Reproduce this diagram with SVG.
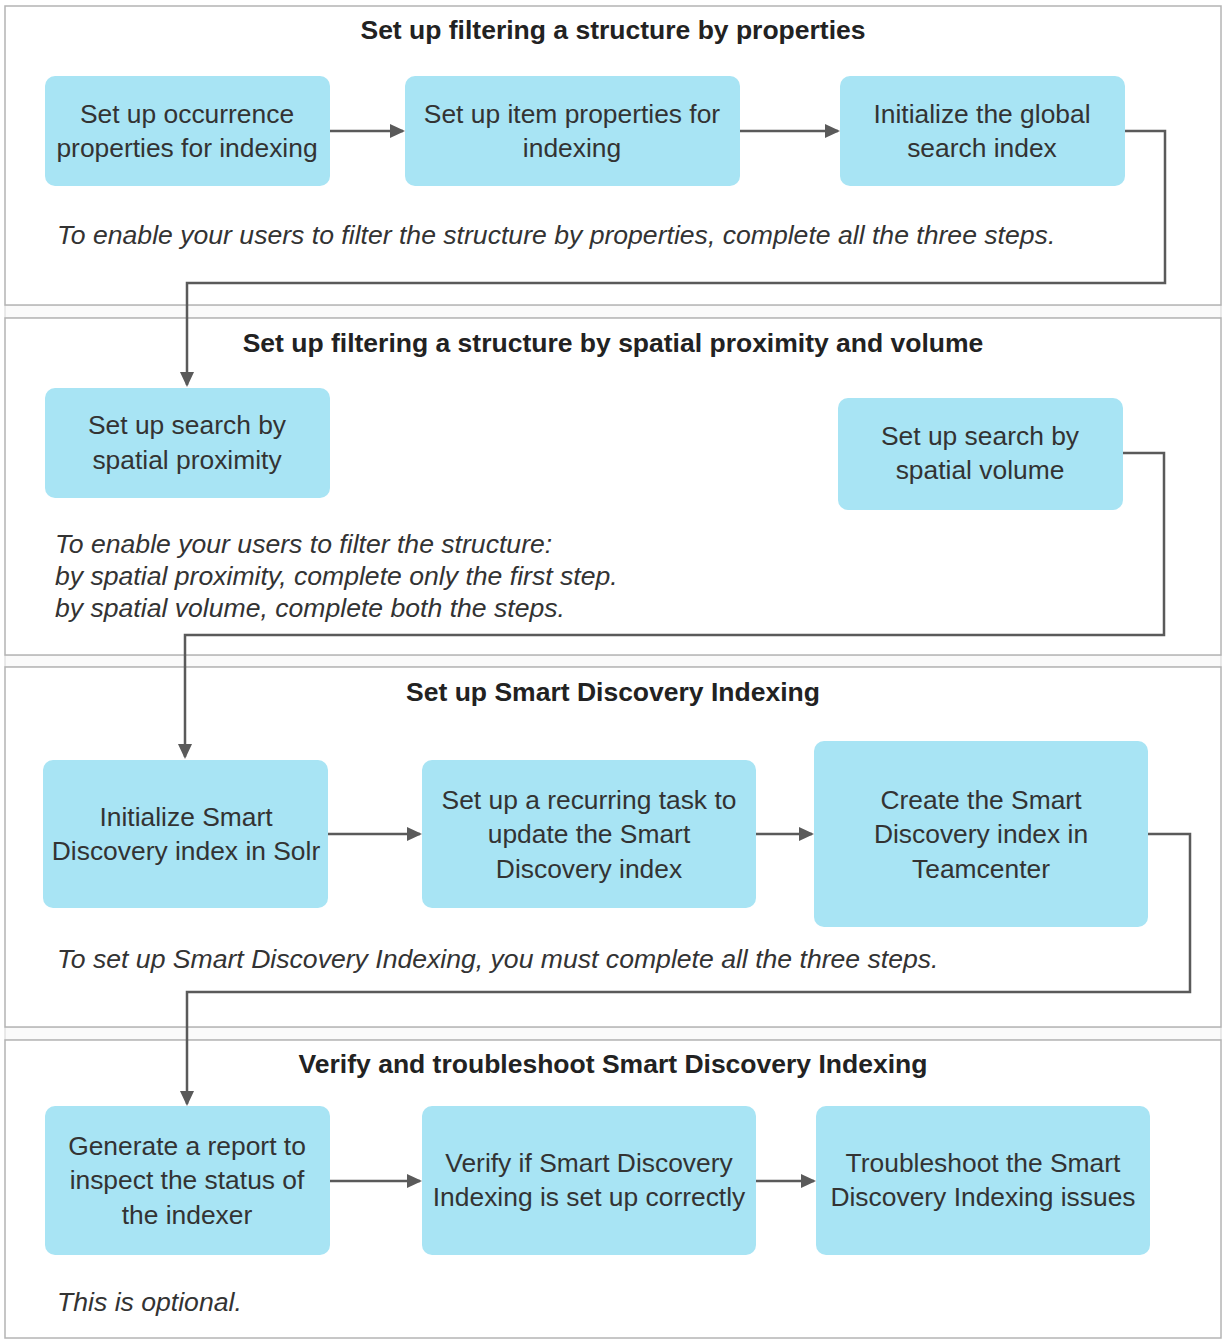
<svg xmlns="http://www.w3.org/2000/svg" width="1225" height="1340" viewBox="0 0 1225 1340">
<style>
.panel{fill:#fff;stroke:#b4b4b4;stroke-width:1.5}
.band{fill:#fafafa;stroke:#d6d6d6;stroke-width:1}
.node{fill:#a8e4f4}
.nt{font-family:"Liberation Sans",Arial,sans-serif;font-size:26.4px;fill:#333;text-anchor:middle}
.title{font-family:"Liberation Sans",Arial,sans-serif;font-size:26.5px;font-weight:bold;fill:#222;text-anchor:middle}
.cap{font-family:"Liberation Sans",Arial,sans-serif;font-size:26.6px;font-style:italic;fill:#333}
.conn{fill:none;stroke:#5a5a5a;stroke-width:2.5}
</style>
<defs>
<marker id="ahv" markerWidth="15" markerHeight="18" refX="13" refY="7" orient="auto" markerUnits="userSpaceOnUse" viewBox="0 0 15 14">
<path d="M0,0 L15,7 L0,14 Z" fill="#5a5a5a"/>
</marker>
</defs>
<rect width="1225" height="1340" fill="#fff"/>
<g id="panels">
<rect class="band" x="5" y="305" width="1216" height="13"/>
<rect class="band" x="5" y="655" width="1216" height="12"/>
<rect class="band" x="5" y="1027" width="1216" height="13"/>
<rect class="panel" x="5" y="6" width="1216" height="299"/>
<rect class="panel" x="5" y="318" width="1216" height="337"/>
<rect class="panel" x="5" y="667" width="1216" height="360"/>
<rect class="panel" x="5" y="1040" width="1216" height="298"/>
</g>
<g id="titles">
<text class="title" x="613" y="39">Set up filtering a structure by properties</text>
<text class="title" x="613" y="352">Set up filtering a structure by spatial proximity and volume</text>
<text class="title" x="613" y="701">Set up Smart Discovery Indexing</text>
<text class="title" x="613" y="1073">Verify and troubleshoot Smart Discovery Indexing</text>
</g>
<g id="captions">
<text class="cap" x="57" y="244">To enable your users to filter the structure by properties, complete all the three steps.</text>
<text class="cap" x="55" y="553">To enable your users to filter the structure:</text>
<text class="cap" x="55" y="585">by spatial proximity, complete only the first step.</text>
<text class="cap" x="55" y="617">by spatial volume, complete both the steps.</text>
<text class="cap" x="57" y="968">To set up Smart Discovery Indexing, you must complete all the three steps.</text>
<text class="cap" x="57" y="1311">This is optional.</text>
</g>
<g id="connectors">
<path class="conn" d="M330,131 H403" marker-end="url(#ahv)"/>
<path class="conn" d="M740,131 H838" marker-end="url(#ahv)"/>
<path class="conn" d="M1125,131 H1165 V283 H187 V385" marker-end="url(#ahv)"/>
<path class="conn" d="M1123,453 H1164 V635 H185 V757" marker-end="url(#ahv)"/>
<path class="conn" d="M328,834 H420" marker-end="url(#ahv)"/>
<path class="conn" d="M756,834 H812" marker-end="url(#ahv)"/>
<path class="conn" d="M1148,834 H1190 V992 H187 V1104" marker-end="url(#ahv)"/>
<path class="conn" d="M330,1181 H420" marker-end="url(#ahv)"/>
<path class="conn" d="M756,1181 H814" marker-end="url(#ahv)"/>
</g>
<g id="n1"><rect class="node" x="45" y="76" width="285" height="110" rx="10"/><text class="nt" x="187" y="123">Set up occurrence</text><text class="nt" x="187" y="157">properties for indexing</text></g>
<g id="n2"><rect class="node" x="405" y="76" width="335" height="110" rx="10"/><text class="nt" x="572" y="123">Set up item properties for</text><text class="nt" x="572" y="157">indexing</text></g>
<g id="n3"><rect class="node" x="840" y="76" width="285" height="110" rx="10"/><text class="nt" x="982" y="123">Initialize the global</text><text class="nt" x="982" y="157">search index</text></g>
<g id="n4"><rect class="node" x="45" y="388" width="285" height="110" rx="10"/><text class="nt" x="187" y="434">Set up search by</text><text class="nt" x="187" y="469">spatial proximity</text></g>
<g id="n5"><rect class="node" x="838" y="398" width="285" height="112" rx="10"/><text class="nt" x="980" y="445">Set up search by</text><text class="nt" x="980" y="479">spatial volume</text></g>
<g id="n6"><rect class="node" x="43" y="760" width="285" height="148" rx="10"/><text class="nt" x="186" y="826">Initialize Smart</text><text class="nt" x="186" y="860">Discovery index in Solr</text></g>
<g id="n7"><rect class="node" x="422" y="760" width="334" height="148" rx="10"/><text class="nt" x="589" y="809">Set up a recurring task to</text><text class="nt" x="589" y="843">update the Smart</text><text class="nt" x="589" y="878">Discovery index</text></g>
<g id="n8"><rect class="node" x="814" y="741" width="334" height="186" rx="10"/><text class="nt" x="981" y="809">Create the Smart</text><text class="nt" x="981" y="843">Discovery index in</text><text class="nt" x="981" y="878">Teamcenter</text></g>
<g id="n9"><rect class="node" x="45" y="1106" width="285" height="149" rx="10"/><text class="nt" x="187" y="1155">Generate a report to</text><text class="nt" x="187" y="1189">inspect the status of</text><text class="nt" x="187" y="1224">the indexer</text></g>
<g id="n10"><rect class="node" x="422" y="1106" width="334" height="149" rx="10"/><text class="nt" x="589" y="1172">Verify if Smart Discovery</text><text class="nt" x="589" y="1206">Indexing is set up correctly</text></g>
<g id="n11"><rect class="node" x="816" y="1106" width="334" height="149" rx="10"/><text class="nt" x="983" y="1172">Troubleshoot the Smart</text><text class="nt" x="983" y="1206">Discovery Indexing issues</text></g>
</svg>
